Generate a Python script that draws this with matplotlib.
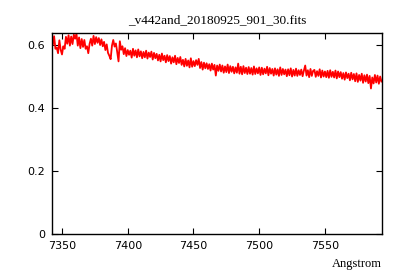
import numpy as np
import matplotlib
matplotlib.use('Agg')
import matplotlib.pyplot as plt

# wavelength grid (Angstrom), 1 A steps
wave = np.arange(7342, 7594)

# flux
flux = [
    0.625, 0.600, 0.628, 0.588, 0.592, 0.574, 0.615, 0.585, 0.570, 0.596,
    0.588, 0.626, 0.604, 0.631, 0.598, 0.627, 0.603, 0.633, 0.620, 0.636,
    0.598, 0.624, 0.590, 0.619, 0.594, 0.616, 0.588, 0.596, 0.574, 0.604,
    0.620, 0.598, 0.629, 0.603, 0.625, 0.607, 0.622, 0.600, 0.618, 0.596,
    0.610, 0.584, 0.602, 0.575, 0.566, 0.555, 0.598, 0.616, 0.595, 0.605,
    0.578, 0.548, 0.612, 0.585, 0.596, 0.571, 0.590, 0.565, 0.584, 0.569,
    0.582, 0.560, 0.588, 0.566, 0.583, 0.561, 0.586, 0.564, 0.580, 0.558,
    0.578, 0.561, 0.582, 0.557, 0.576, 0.562, 0.579, 0.554, 0.575, 0.558,
    0.572, 0.551, 0.569, 0.548, 0.573, 0.552, 0.566, 0.545, 0.568, 0.549,
    0.565, 0.541, 0.561, 0.545, 0.566, 0.539, 0.559, 0.543, 0.562, 0.537,
    0.553, 0.532, 0.556, 0.534, 0.551, 0.529, 0.558, 0.531, 0.549, 0.533,
    0.552, 0.537, 0.556, 0.527, 0.546, 0.522, 0.544, 0.526, 0.542, 0.524,
    0.539, 0.519, 0.541, 0.522, 0.537, 0.503, 0.535, 0.518, 0.538, 0.516,
    0.535, 0.512, 0.532, 0.514, 0.538, 0.511, 0.533, 0.515, 0.531, 0.510,
    0.529, 0.512, 0.541, 0.509, 0.531, 0.507, 0.533, 0.511, 0.528, 0.508,
    0.530, 0.509, 0.527, 0.506, 0.532, 0.508, 0.526, 0.510, 0.529, 0.505,
    0.528, 0.507, 0.525, 0.510, 0.531, 0.504, 0.527, 0.509, 0.524, 0.503,
    0.526, 0.506, 0.523, 0.502, 0.529, 0.505, 0.524, 0.507, 0.522, 0.501,
    0.523, 0.504, 0.526, 0.500, 0.521, 0.503, 0.525, 0.502, 0.520, 0.505,
    0.522, 0.501, 0.519, 0.535, 0.503, 0.520, 0.498, 0.524, 0.502, 0.518,
    0.521, 0.499, 0.517, 0.502, 0.523, 0.497, 0.519, 0.500, 0.516, 0.498,
    0.518, 0.496, 0.520, 0.499, 0.515, 0.497, 0.519, 0.494, 0.516, 0.498,
    0.514, 0.493, 0.511, 0.490, 0.513, 0.495, 0.509, 0.488, 0.512, 0.491,
    0.508, 0.485, 0.510, 0.483, 0.505, 0.487, 0.509, 0.480, 0.504, 0.484,
    0.506, 0.479, 0.502, 0.462, 0.497, 0.478, 0.505, 0.481, 0.503, 0.477,
    0.500, 0.484,
]

xticks = [7350, 7400, 7450, 7500, 7550]
yticks = [0, 0.2, 0.4, 0.6]
yticklabels = ['0', '0.2', '0.4', '0.6']

fig = plt.figure(figsize=(4, 2.8), dpi=100)
ax = fig.add_axes([0.13, 0.164, 0.825, 0.718])

ax.plot(wave, flux, color='red', linewidth=1.3)

ax.set_xlim(7342.4, 7593.4)
ax.set_ylim(0, 0.638)
ax.set_xticks(xticks)
ax.set_yticks(yticks)
ax.set_yticklabels(yticklabels)
ax.tick_params(direction='in', top=True, right=True, length=4, width=0.8,
               labelsize=8, pad=5)
for s in ax.spines.values():
    s.set_linewidth(1.0)

ax.set_title('_v442and_20180925_901_30.fits', fontsize=9.5,
             family='Liberation Serif', pad=7)
ax.text(1.0, -0.12, 'Angstrom', transform=ax.transAxes, ha='right', va='top',
        fontsize=9, family='Liberation Serif')

plt.savefig('out.png', dpi=100)
